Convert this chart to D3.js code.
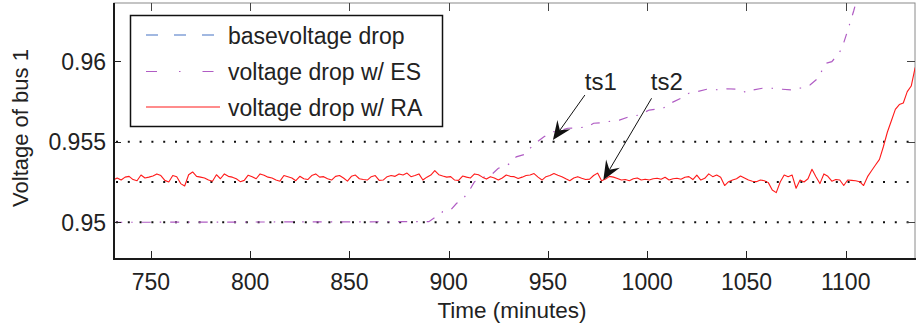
<!DOCTYPE html>
<html>
<head>
<meta charset="utf-8">
<script src="https://cdn.jsdelivr.net/npm/d3@7"></script>
<style>
  html, body { margin: 0; padding: 0; background: #fff; }
  svg { display: block; font-family: "Liberation Sans", Arial, Helvetica, sans-serif; }
</style>
</head>
<body>
<svg id="chart" width="916" height="330"></svg>
<script>
// ---------------- data ----------------
const xTicks = [750, 800, 850, 900, 950, 1000, 1050, 1100];
const yTicks = [0.95, 0.955, 0.96];
const yTickLabels = ["0.95", "0.955", "0.96"];
const thresholdLevels = [0.95, 0.9525, 0.955];

const seriesNames = ["basevoltage drop", "voltage drop w/ ES", "voltage drop w/ RA"];

// voltage drop w/ RA : sampled every 2 minutes starting at minute 731
const raStart = 731;
const raStep = 2;
const raValues = [
  0.95262,0.95275,0.95262,0.95280,0.95285,0.95265,0.95258,0.95293,0.95275,0.95280,
  0.95287,0.95300,0.95290,0.95260,0.95250,0.95290,0.95283,0.95240,0.95225,0.95295,
  0.95312,0.95285,0.95280,0.95275,0.95262,0.95255,0.95295,0.95270,0.95300,0.95285,
  0.95280,0.95270,0.95252,0.95260,0.95292,0.95283,0.95270,0.95300,0.95292,0.95280,
  0.95275,0.95262,0.95255,0.95290,0.95283,0.95275,0.95258,0.95285,0.95270,0.95265,
  0.95290,0.95300,0.95280,0.95283,0.95270,0.95262,0.95285,0.95290,0.95275,0.95255,
  0.95285,0.95293,0.95270,0.95265,0.95262,0.95283,0.95290,0.95260,0.95262,0.95283,
  0.95290,0.95285,0.95300,0.95293,0.95305,0.95283,0.95290,0.95300,0.95262,0.95280,
  0.95293,0.95320,0.95295,0.95287,0.95280,0.95283,0.95262,0.95260,0.95287,0.95280,
  0.95275,0.95300,0.95295,0.95280,0.95268,0.95283,0.95275,0.95262,0.95275,0.95293,
  0.95285,0.95283,0.95272,0.95280,0.95290,0.95293,0.95302,0.95280,0.95262,0.95283,
  0.95290,0.95303,0.95292,0.95283,0.95270,0.95258,0.95275,0.95283,0.95273,0.95265,
  0.95268,0.95290,0.95305,0.95258,0.95268,0.95285,0.95280,0.95272,0.95262,0.95265,
  0.95258,0.95270,0.95275,0.95262,0.95267,0.95262,0.95270,0.95273,0.95267,0.95279,
  0.95262,0.95270,0.95273,0.95267,0.95279,0.95283,0.95265,0.95293,0.95262,0.95273,
  0.95300,0.95283,0.95293,0.95280,0.95228,0.95252,0.95262,0.95270,0.95287,0.95275,
  0.95262,0.95255,0.95252,0.95262,0.95258,0.95246,0.95200,0.95184,0.95250,0.95293,
  0.95283,0.95293,0.95211,0.95262,0.95250,0.95270,0.95329,0.95283,0.95240,0.95300,
  0.95285,0.95255,0.95265,0.95262,0.95228,0.95262,0.95260,0.95258,0.95252,0.95228,
  0.95283,0.95320,0.95355,0.95390,0.95470,0.95560,0.95630,0.95700,0.95730,0.95740,
  0.95810,0.95845,0.95960
];

// voltage drop w/ ES
const esTimes = [
  731, 890, 893, 897, 901, 904, 907, 911, 913, 916, 919, 922, 925, 928, 931, 934,
  938, 941, 944, 948, 952, 956, 960, 965, 970, 973, 977, 980, 986, 991, 996, 1001,
  1004, 1008, 1012, 1017, 1021, 1025, 1030, 1035, 1040, 1046, 1050, 1053, 1058,
  1063, 1068, 1073, 1076, 1079, 1082, 1086, 1088, 1090, 1093, 1096, 1098, 1100,
  1102, 1104, 1106, 1108
];
const esValues = [
  0.95000, 0.95004, 0.95030, 0.95066, 0.95076, 0.95118, 0.95140, 0.95210, 0.95252,
  0.95262, 0.95293, 0.95300, 0.95335, 0.95345, 0.95366, 0.95406, 0.95420, 0.95459,
  0.95494, 0.95530, 0.95560, 0.95568, 0.95583, 0.95585, 0.95593, 0.95614, 0.95618,
  0.95624, 0.95634, 0.95655, 0.95665, 0.95696, 0.95700, 0.95707, 0.95740, 0.95769,
  0.95800, 0.95810, 0.95825, 0.95822, 0.95828, 0.95825, 0.95804, 0.95820, 0.95831,
  0.95831, 0.95825, 0.95820, 0.95831, 0.95834, 0.95851, 0.95893, 0.95940, 0.95986,
  0.95996, 0.96040, 0.96075, 0.96151, 0.96230, 0.96310, 0.96400, 0.96480
];

// annotations: label, label anchor (t, v), arrow tail (t, v), arrow tip (t, v)
const annotations = [
  { label: "ts1", tx: 968.6, tv: 0.95820, fromT: 968.6, fromV: 0.95789, toT: 952.5, toV: 0.95510 },
  { label: "ts2", tx: 1001.8, tv: 0.95820, fromT: 1002.2, fromV: 0.95769, toT: 977.9, toV: 0.95262 }
];

// ---------------- layout ----------------
const W = 916, H = 330;
const M = { left: 114, right: 1, top: 3, bottom: 71 };
const x0 = M.left, x1 = W - M.right, y0 = M.top, y1 = H - M.bottom;

const xScale = d3.scaleLinear().domain([731.4, 1134.9]).range([x0, x1]);
const yScale = d3.scaleLinear().domain([0.947725, 0.963597]).range([y1, y0]);

const FONT = 23;
const TXT = "#222";
const colBase = "#4472c4";
const colES = "#b05cc4";
const colRA = "#ff1a1a";

const svg = d3.select("#chart");

svg.append("defs").append("clipPath").attr("id", "plotclip")
  .append("rect").attr("x", x0).attr("y", y0).attr("width", x1 - x0).attr("height", y1 - y0);

// frame (top/right thin gray)
svg.append("rect")
  .attr("x", x0).attr("y", y0).attr("width", x1 - x0).attr("height", y1 - y0)
  .attr("fill", "none").attr("stroke", "#8a8a8a").attr("stroke-width", 1);

const plot = svg.append("g").attr("clip-path", "url(#plotclip)");

// threshold dotted lines
plot.selectAll("line.thr").data(thresholdLevels).enter().append("line")
  .attr("class", "thr")
  .attr("x1", x0 + 2).attr("x2", x1)
  .attr("y1", d => yScale(d)).attr("y2", d => yScale(d))
  .attr("stroke", "#111").attr("stroke-width", 2)
  .attr("stroke-dasharray", "2,9.8");

// ES series
const esData = esTimes.map((t, i) => [t, esValues[i]]);
const line = d3.line().x(d => xScale(d[0])).y(d => yScale(d[1]));
plot.append("path").datum(esData)
  .attr("d", line)
  .attr("fill", "none").attr("stroke", colES).attr("stroke-width", 1.2)
  .attr("stroke-dasharray", "9,9,1.5,9");

// RA series
const raData = raValues.map((v, i) => [raStart + i * raStep, v]);
plot.append("path").datum(raData)
  .attr("d", line)
  .attr("fill", "none").attr("stroke", colRA).attr("stroke-width", 1.1)
  .attr("stroke-linejoin", "round");

// axes lines (left and bottom, heavy)
svg.append("line").attr("x1", x0).attr("x2", x0).attr("y1", y0).attr("y2", y1 + 1)
  .attr("stroke", "#1a1a1a").attr("stroke-width", 2);
svg.append("line").attr("x1", x0 - 1).attr("x2", x1 + 1).attr("y1", y1).attr("y2", y1)
  .attr("stroke", "#1a1a1a").attr("stroke-width", 2);

// x ticks (bottom and top, inward)
const xt = svg.append("g");
xTicks.forEach(t => {
  const xx = Math.round(xScale(t)) + 0.5;
  xt.append("line").attr("x1", xx).attr("x2", xx).attr("y1", y1).attr("y2", y1 - 8)
    .attr("stroke", "#222").attr("stroke-width", 1);
  xt.append("line").attr("x1", xx).attr("x2", xx).attr("y1", y0).attr("y2", y0 + 8)
    .attr("stroke", "#444").attr("stroke-width", 1);
  xt.append("text").attr("x", xScale(t)).attr("y", 289.5)
    .attr("text-anchor", "middle").attr("font-size", FONT).attr("fill", TXT)
    .text(t);
});

// y ticks (left and right, inward)
const yt = svg.append("g");
yTicks.forEach((v, i) => {
  const yy = Math.round(yScale(v)) + 0.5;
  yt.append("line").attr("x1", x0).attr("x2", x0 + 7).attr("y1", yy).attr("y2", yy)
    .attr("stroke", "#222").attr("stroke-width", 1);
  yt.append("line").attr("x1", x1).attr("x2", x1 - 8).attr("y1", yy).attr("y2", yy)
    .attr("stroke", "#444").attr("stroke-width", 1);
  yt.append("text").attr("x", 106).attr("y", yScale(v) + 8.5)
    .attr("text-anchor", "end").attr("font-size", FONT).attr("fill", TXT)
    .text(yTickLabels[i]);
});

// axis titles
svg.append("text").attr("x", 512).attr("y", 318)
  .attr("text-anchor", "middle").attr("font-size", 22.5).attr("fill", TXT)
  .text("Time (minutes)");
svg.append("text")
  .attr("transform", "translate(28,128) rotate(-90)")
  .attr("text-anchor", "middle").attr("font-size", 22).attr("fill", TXT)
  .text("Voltage of bus 1");

// annotations
const ann = svg.append("g");
annotations.forEach(a => {
  const fx = xScale(a.fromT), fy = yScale(a.fromV);
  const tx = xScale(a.toT), ty = yScale(a.toV);
  const ang = Math.atan2(ty - fy, tx - fx);
  const L = 19, Wd = 8, notch = 12;
  const ux = Math.cos(ang), uy = Math.sin(ang);
  const px = -uy, py = ux;
  const bx = tx - ux * L, by = ty - uy * L;
  const nx = tx - ux * notch, ny = ty - uy * notch;
  ann.append("line").attr("x1", fx).attr("y1", fy).attr("x2", nx).attr("y2", ny)
    .attr("stroke", "#111").attr("stroke-width", 1);
  ann.append("path")
    .attr("d", `M${tx},${ty} L${bx + px * Wd},${by + py * Wd} L${nx},${ny} L${bx - px * Wd},${by - py * Wd} Z`)
    .attr("fill", "#111");
  ann.append("text").attr("x", xScale(a.tx)).attr("y", yScale(a.tv))
    .attr("font-size", 24).attr("fill", TXT).text(a.label);
});

// legend
const lg = svg.append("g");
lg.append("rect").attr("x", 130.5).attr("y", 15.5).attr("width", 312).attr("height", 111)
  .attr("fill", "#fff").attr("stroke", "#111").attr("stroke-width", 1.5);
const legendStyles = [
  { color: colBase, dash: "12,16" },
  { color: colES, dash: "11,22,1.5,22" },
  { color: colRA, dash: null }
];
const rowY = [35, 71.5, 107];
seriesNames.forEach((name, i) => {
  const l = lg.append("line").attr("x1", 146).attr("x2", 220)
    .attr("y1", rowY[i]).attr("y2", rowY[i])
    .attr("stroke", legendStyles[i].color).attr("stroke-width", 1.2);
  if (legendStyles[i].dash) l.attr("stroke-dasharray", legendStyles[i].dash);
  lg.append("text").attr("x", 228).attr("y", rowY[i] + 8.5)
    .attr("font-size", FONT).attr("fill", TXT).text(name);
});
</script>
</body>
</html>
